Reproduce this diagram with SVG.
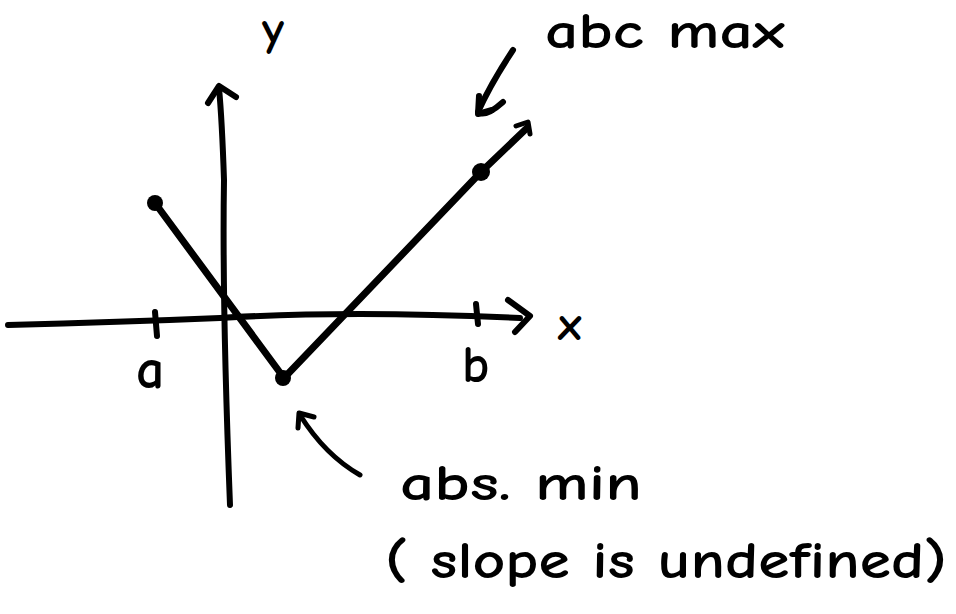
<svg xmlns="http://www.w3.org/2000/svg" width="956" height="614" viewBox="0 0 956 614">
<style>
.ink{fill:none;stroke:#000;stroke-linecap:round;stroke-linejoin:round}
.t{font-family:"Comic Neue","DejaVu Sans","Liberation Sans",sans-serif;font-weight:bold;fill:#000}
</style>
<rect width="956" height="614" fill="#fff"/>
<g id="axes">
<path class="ink" stroke-width="6" d="M8,325 Q120,322 220,318 Q350,310 520,318"/>
<path class="ink" stroke-width="6" d="M508,300 L530,316 L515,332"/>
<path class="ink" stroke-width="6" d="M155,312 L157,336"/>
<path class="ink" stroke-width="6" d="M476,304 L478,324"/>
<path class="ink" stroke-width="6" d="M230,505 Q222,300 224,180 Q222,120 219,88"/>
<path class="ink" stroke-width="6" d="M208,103 L219,86 L236,97"/>
</g>
<g id="graph">
<path class="ink" stroke-width="7" d="M155,203 L284,378 L481,172 L527,128"/>
<path class="ink" stroke-width="5" d="M516,126 L528,122 L530,134"/>
<circle cx="155" cy="203" r="8"/>
<circle cx="283" cy="378" r="8"/>
<circle cx="481" cy="172" r="9"/>
</g>
<g id="labels">
<text class="t" x="262" y="45" font-size="48">y</text>
<text class="t" x="558" y="340" font-size="48">x</text>
<text class="t" x="136" y="388" font-size="56">a</text>
<text class="t" x="462" y="382" font-size="52">b</text>
<text class="t" x="545" y="48" font-size="50" textLength="240" lengthAdjust="spacingAndGlyphs">abc max</text>
<text class="t" x="400" y="500" font-size="50" textLength="242" lengthAdjust="spacingAndGlyphs">abs. min</text>
<text class="t" x="385" y="578" font-size="52" textLength="562" lengthAdjust="spacingAndGlyphs">( slope is undefined)</text>
</g>
<g id="connectors">
<path class="ink" stroke-width="6" d="M513,50 Q490,85 478,112 Q485,118 503,102"/>
<path class="ink" stroke-width="6" d="M479,96 L478,114 L492,110"/>
<path class="ink" stroke-width="5" d="M360,475 Q325,455 300,415"/>
<path class="ink" stroke-width="5" d="M298,428 L299,413 L314,417"/>
</g>
</svg>
